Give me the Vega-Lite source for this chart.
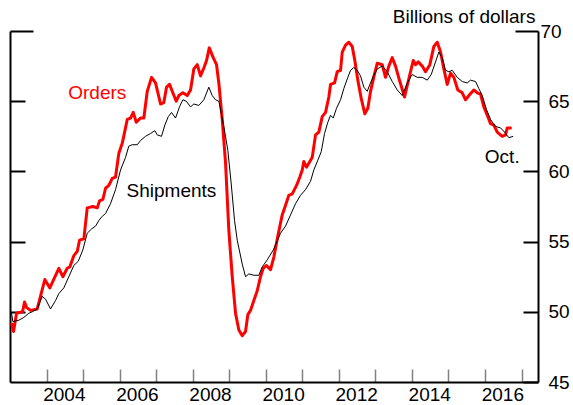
{
  "$schema": "https://vega.github.io/schema/vega-lite/v6.json",
  "width": 528,
  "height": 351,
  "autosize": {"type": "none"},
  "padding": {"left": 10, "top": 31, "right": 35, "bottom": 23},
  "config": {
    "view": {"stroke": null},
    "font": "Liberation Sans",
    "axis": {"grid": false, "domainColor": "black", "domainWidth": 2, "labelFont": "Liberation Sans", "labelFontSize": 19, "labelColor": "black", "title": null}
  },
  "datasets": {
    "series": [
      {"s":"Orders","t":2003.042,"v":49.2},{"s":"Orders","t":2003.097,"v":48.6},{"s":"Orders","t":2003.179,"v":49.9},{"s":"Orders","t":2003.343,"v":50.0},{"s":"Orders","t":2003.398,"v":50.7},{"s":"Orders","t":2003.453,"v":50.3},{"s":"Orders","t":2003.562,"v":50.1},{"s":"Orders","t":2003.745,"v":50.2},{"s":"Orders","t":2003.953,"v":52.3},{"s":"Orders","t":2004.090,"v":51.7},{"s":"Orders","t":2004.337,"v":53.1},{"s":"Orders","t":2004.446,"v":52.5},{"s":"Orders","t":2004.566,"v":53.1},{"s":"Orders","t":2004.638,"v":53.2},{"s":"Orders","t":2004.747,"v":54.0},{"s":"Orders","t":2004.840,"v":54.3},{"s":"Orders","t":2004.903,"v":55.1},{"s":"Orders","t":2005.021,"v":55.2},{"s":"Orders","t":2005.114,"v":57.4},{"s":"Orders","t":2005.267,"v":57.5},{"s":"Orders","t":2005.388,"v":57.4},{"s":"Orders","t":2005.450,"v":57.9},{"s":"Orders","t":2005.541,"v":58.0},{"s":"Orders","t":2005.615,"v":58.8},{"s":"Orders","t":2005.705,"v":59.0},{"s":"Orders","t":2005.798,"v":59.5},{"s":"Orders","t":2005.888,"v":59.6},{"s":"Orders","t":2005.979,"v":61.3},{"s":"Orders","t":2006.072,"v":62.0},{"s":"Orders","t":2006.209,"v":63.7},{"s":"Orders","t":2006.299,"v":63.8},{"s":"Orders","t":2006.373,"v":64.2},{"s":"Orders","t":2006.455,"v":63.5},{"s":"Orders","t":2006.573,"v":63.8},{"s":"Orders","t":2006.663,"v":63.8},{"s":"Orders","t":2006.756,"v":65.7},{"s":"Orders","t":2006.874,"v":66.7},{"s":"Orders","t":2006.983,"v":66.3},{"s":"Orders","t":2007.120,"v":64.8},{"s":"Orders","t":2007.210,"v":64.9},{"s":"Orders","t":2007.284,"v":66.0},{"s":"Orders","t":2007.366,"v":66.2},{"s":"Orders","t":2007.456,"v":65.6},{"s":"Orders","t":2007.550,"v":65.0},{"s":"Orders","t":2007.621,"v":65.4},{"s":"Orders","t":2007.730,"v":65.6},{"s":"Orders","t":2007.851,"v":65.4},{"s":"Orders","t":2007.941,"v":65.8},{"s":"Orders","t":2008.031,"v":67.3},{"s":"Orders","t":2008.124,"v":67.6},{"s":"Orders","t":2008.215,"v":66.8},{"s":"Orders","t":2008.310,"v":67.4},{"s":"Orders","t":2008.379,"v":67.9},{"s":"Orders","t":2008.453,"v":68.8},{"s":"Orders","t":2008.562,"v":68.1},{"s":"Orders","t":2008.652,"v":67.6},{"s":"Orders","t":2008.715,"v":66.3},{"s":"Orders","t":2008.808,"v":63.7},{"s":"Orders","t":2008.899,"v":60.6},{"s":"Orders","t":2008.989,"v":55.8},{"s":"Orders","t":2009.082,"v":52.5},{"s":"Orders","t":2009.172,"v":49.9},{"s":"Orders","t":2009.263,"v":48.7},{"s":"Orders","t":2009.356,"v":48.3},{"s":"Orders","t":2009.446,"v":48.6},{"s":"Orders","t":2009.509,"v":49.8},{"s":"Orders","t":2009.583,"v":50.1},{"s":"Orders","t":2009.673,"v":50.8},{"s":"Orders","t":2009.766,"v":51.5},{"s":"Orders","t":2009.856,"v":52.5},{"s":"Orders","t":2009.930,"v":53.1},{"s":"Orders","t":2010.021,"v":53.3},{"s":"Orders","t":2010.130,"v":53.0},{"s":"Orders","t":2010.221,"v":53.9},{"s":"Orders","t":2010.330,"v":55.4},{"s":"Orders","t":2010.450,"v":56.9},{"s":"Orders","t":2010.568,"v":57.8},{"s":"Orders","t":2010.631,"v":58.3},{"s":"Orders","t":2010.724,"v":58.4},{"s":"Orders","t":2010.842,"v":59.0},{"s":"Orders","t":2010.932,"v":59.6},{"s":"Orders","t":2010.998,"v":60.1},{"s":"Orders","t":2011.041,"v":60.7},{"s":"Orders","t":2011.115,"v":60.3},{"s":"Orders","t":2011.206,"v":60.7},{"s":"Orders","t":2011.271,"v":61.0},{"s":"Orders","t":2011.362,"v":62.6},{"s":"Orders","t":2011.452,"v":62.8},{"s":"Orders","t":2011.545,"v":63.9},{"s":"Orders","t":2011.636,"v":64.2},{"s":"Orders","t":2011.726,"v":65.3},{"s":"Orders","t":2011.772,"v":66.2},{"s":"Orders","t":2011.882,"v":66.3},{"s":"Orders","t":2011.956,"v":67.1},{"s":"Orders","t":2012.046,"v":67.2},{"s":"Orders","t":2012.093,"v":68.5},{"s":"Orders","t":2012.183,"v":69.0},{"s":"Orders","t":2012.273,"v":69.2},{"s":"Orders","t":2012.366,"v":68.9},{"s":"Orders","t":2012.437,"v":67.9},{"s":"Orders","t":2012.519,"v":66.5},{"s":"Orders","t":2012.612,"v":65.2},{"s":"Orders","t":2012.711,"v":64.1},{"s":"Orders","t":2012.793,"v":64.5},{"s":"Orders","t":2012.867,"v":65.7},{"s":"Orders","t":2012.963,"v":66.8},{"s":"Orders","t":2013.050,"v":67.7},{"s":"Orders","t":2013.187,"v":67.6},{"s":"Orders","t":2013.277,"v":66.7},{"s":"Orders","t":2013.368,"v":67.5},{"s":"Orders","t":2013.461,"v":68.1},{"s":"Orders","t":2013.551,"v":67.5},{"s":"Orders","t":2013.669,"v":66.4},{"s":"Orders","t":2013.798,"v":65.3},{"s":"Orders","t":2013.915,"v":66.6},{"s":"Orders","t":2014.036,"v":67.9},{"s":"Orders","t":2014.099,"v":67.6},{"s":"Orders","t":2014.172,"v":67.8},{"s":"Orders","t":2014.282,"v":67.5},{"s":"Orders","t":2014.372,"v":67.1},{"s":"Orders","t":2014.490,"v":67.6},{"s":"Orders","t":2014.600,"v":68.9},{"s":"Orders","t":2014.693,"v":69.2},{"s":"Orders","t":2014.783,"v":68.5},{"s":"Orders","t":2014.873,"v":67.3},{"s":"Orders","t":2014.966,"v":66.2},{"s":"Orders","t":2015.057,"v":67.0},{"s":"Orders","t":2015.147,"v":66.7},{"s":"Orders","t":2015.256,"v":65.8},{"s":"Orders","t":2015.377,"v":65.6},{"s":"Orders","t":2015.467,"v":65.1},{"s":"Orders","t":2015.557,"v":65.4},{"s":"Orders","t":2015.694,"v":65.8},{"s":"Orders","t":2015.787,"v":65.6},{"s":"Orders","t":2015.877,"v":65.5},{"s":"Orders","t":2015.968,"v":64.6},{"s":"Orders","t":2016.061,"v":64.0},{"s":"Orders","t":2016.151,"v":63.4},{"s":"Orders","t":2016.241,"v":63.3},{"s":"Orders","t":2016.334,"v":62.8},{"s":"Orders","t":2016.471,"v":62.5},{"s":"Orders","t":2016.562,"v":62.6},{"s":"Orders","t":2016.608,"v":63.1},{"s":"Orders","t":2016.666,"v":63.1},{"s":"Orders","t":2016.729,"v":63.1},
      {"s":"Shipments","t":2003.042,"v":49.9},{"s":"Shipments","t":2003.078,"v":49.3},{"s":"Shipments","t":2003.242,"v":49.4},{"s":"Shipments","t":2003.379,"v":49.6},{"s":"Shipments","t":2003.516,"v":49.9},{"s":"Shipments","t":2003.609,"v":50.0},{"s":"Shipments","t":2003.745,"v":50.2},{"s":"Shipments","t":2003.882,"v":51.1},{"s":"Shipments","t":2003.973,"v":50.9},{"s":"Shipments","t":2004.109,"v":50.2},{"s":"Shipments","t":2004.246,"v":50.8},{"s":"Shipments","t":2004.337,"v":51.3},{"s":"Shipments","t":2004.473,"v":51.7},{"s":"Shipments","t":2004.610,"v":52.5},{"s":"Shipments","t":2004.747,"v":53.3},{"s":"Shipments","t":2004.868,"v":53.6},{"s":"Shipments","t":2004.993,"v":54.4},{"s":"Shipments","t":2005.114,"v":55.6},{"s":"Shipments","t":2005.232,"v":55.9},{"s":"Shipments","t":2005.341,"v":56.1},{"s":"Shipments","t":2005.431,"v":56.5},{"s":"Shipments","t":2005.524,"v":56.8},{"s":"Shipments","t":2005.615,"v":57.0},{"s":"Shipments","t":2005.751,"v":57.7},{"s":"Shipments","t":2005.888,"v":58.7},{"s":"Shipments","t":2006.025,"v":60.1},{"s":"Shipments","t":2006.162,"v":61.0},{"s":"Shipments","t":2006.252,"v":61.8},{"s":"Shipments","t":2006.345,"v":61.9},{"s":"Shipments","t":2006.482,"v":61.9},{"s":"Shipments","t":2006.573,"v":62.2},{"s":"Shipments","t":2006.709,"v":62.5},{"s":"Shipments","t":2006.846,"v":62.7},{"s":"Shipments","t":2006.964,"v":62.9},{"s":"Shipments","t":2007.030,"v":62.6},{"s":"Shipments","t":2007.147,"v":62.5},{"s":"Shipments","t":2007.237,"v":63.3},{"s":"Shipments","t":2007.331,"v":63.9},{"s":"Shipments","t":2007.421,"v":64.2},{"s":"Shipments","t":2007.530,"v":63.8},{"s":"Shipments","t":2007.640,"v":64.6},{"s":"Shipments","t":2007.730,"v":65.1},{"s":"Shipments","t":2007.823,"v":65.0},{"s":"Shipments","t":2007.941,"v":64.6},{"s":"Shipments","t":2008.031,"v":64.8},{"s":"Shipments","t":2008.168,"v":64.7},{"s":"Shipments","t":2008.305,"v":65.1},{"s":"Shipments","t":2008.442,"v":66.0},{"s":"Shipments","t":2008.535,"v":65.4},{"s":"Shipments","t":2008.625,"v":65.1},{"s":"Shipments","t":2008.715,"v":65.0},{"s":"Shipments","t":2008.852,"v":63.2},{"s":"Shipments","t":2008.962,"v":61.5},{"s":"Shipments","t":2009.055,"v":59.1},{"s":"Shipments","t":2009.145,"v":56.5},{"s":"Shipments","t":2009.219,"v":55.1},{"s":"Shipments","t":2009.356,"v":53.4},{"s":"Shipments","t":2009.446,"v":52.5},{"s":"Shipments","t":2009.536,"v":52.7},{"s":"Shipments","t":2009.673,"v":52.6},{"s":"Shipments","t":2009.810,"v":52.6},{"s":"Shipments","t":2009.903,"v":53.2},{"s":"Shipments","t":2010.040,"v":53.7},{"s":"Shipments","t":2010.204,"v":54.4},{"s":"Shipments","t":2010.357,"v":55.3},{"s":"Shipments","t":2010.403,"v":55.6},{"s":"Shipments","t":2010.540,"v":56.1},{"s":"Shipments","t":2010.677,"v":56.9},{"s":"Shipments","t":2010.814,"v":57.7},{"s":"Shipments","t":2010.951,"v":58.3},{"s":"Shipments","t":2011.088,"v":58.7},{"s":"Shipments","t":2011.225,"v":59.3},{"s":"Shipments","t":2011.315,"v":60.1},{"s":"Shipments","t":2011.425,"v":60.8},{"s":"Shipments","t":2011.518,"v":61.4},{"s":"Shipments","t":2011.608,"v":62.7},{"s":"Shipments","t":2011.698,"v":63.5},{"s":"Shipments","t":2011.772,"v":64.0},{"s":"Shipments","t":2011.846,"v":63.8},{"s":"Shipments","t":2011.936,"v":64.5},{"s":"Shipments","t":2012.046,"v":65.1},{"s":"Shipments","t":2012.136,"v":65.9},{"s":"Shipments","t":2012.246,"v":66.7},{"s":"Shipments","t":2012.320,"v":67.2},{"s":"Shipments","t":2012.410,"v":67.4},{"s":"Shipments","t":2012.503,"v":67.2},{"s":"Shipments","t":2012.593,"v":66.8},{"s":"Shipments","t":2012.684,"v":66.0},{"s":"Shipments","t":2012.777,"v":65.7},{"s":"Shipments","t":2012.848,"v":66.2},{"s":"Shipments","t":2012.949,"v":66.8},{"s":"Shipments","t":2013.050,"v":67.3},{"s":"Shipments","t":2013.187,"v":67.5},{"s":"Shipments","t":2013.324,"v":67.1},{"s":"Shipments","t":2013.461,"v":66.4},{"s":"Shipments","t":2013.598,"v":65.8},{"s":"Shipments","t":2013.735,"v":65.4},{"s":"Shipments","t":2013.872,"v":66.3},{"s":"Shipments","t":2014.008,"v":66.9},{"s":"Shipments","t":2014.145,"v":66.7},{"s":"Shipments","t":2014.282,"v":66.7},{"s":"Shipments","t":2014.419,"v":66.5},{"s":"Shipments","t":2014.528,"v":66.9},{"s":"Shipments","t":2014.646,"v":67.8},{"s":"Shipments","t":2014.736,"v":68.5},{"s":"Shipments","t":2014.829,"v":68.1},{"s":"Shipments","t":2014.919,"v":67.2},{"s":"Shipments","t":2015.010,"v":67.1},{"s":"Shipments","t":2015.103,"v":67.2},{"s":"Shipments","t":2015.240,"v":66.7},{"s":"Shipments","t":2015.377,"v":66.4},{"s":"Shipments","t":2015.513,"v":66.3},{"s":"Shipments","t":2015.604,"v":66.5},{"s":"Shipments","t":2015.741,"v":66.4},{"s":"Shipments","t":2015.831,"v":65.9},{"s":"Shipments","t":2015.924,"v":65.4},{"s":"Shipments","t":2016.042,"v":64.4},{"s":"Shipments","t":2016.151,"v":63.7},{"s":"Shipments","t":2016.288,"v":63.2},{"s":"Shipments","t":2016.425,"v":63.1},{"s":"Shipments","t":2016.534,"v":62.8},{"s":"Shipments","t":2016.652,"v":62.4},{"s":"Shipments","t":2016.771,"v":62.5}
    ],
    "redlabels": [{"label":"Orders","t":2004.594,"v":65.13}],
    "blacklabels": [{"label":"Shipments","t":2006.189,"v":58.17},{"label":"Oct.","t":2015.995,"v":60.57}],
    "unitlabel": [{"label":"Billions of dollars","t":2017.38,"v":70.59}]
  },
  "encoding": {
    "x": {
      "field": "t", "type": "quantitative",
      "scale": {"domain": [2003.0, 2017.45], "nice": false, "zero": false},
      "axis": {
        "orient": "bottom",
        "values": [2004,2005,2006,2007,2008,2009,2010,2011,2012,2013,2014,2015,2016,2017],
        "labelExpr": "datum.value % 2 == 0 ? format(datum.value, 'd') : ''",
        "tickSize": -13, "tickColor": "#808080", "tickWidth": 1.5,
        "labelOffset": 17.3, "labelPadding": 16, "labelFlush": false, "labelOverlap": false
      }
    }
  },
  "layer": [
    {
      "data": {"name": "series"},
      "transform": [{"filter": "datum.s == 'Orders'"}],
      "mark": {"type": "line", "color": "#ff0000", "strokeWidth": 3, "strokeJoin": "round"},
      "encoding": {
        "y": {
          "field": "v", "type": "quantitative",
          "scale": {"domain": [45, 70], "nice": false, "zero": false},
          "axis": {"orient": "right", "values": [45,50,55,60,65,70], "tickSize": {"condition": {"test": "datum.value == 70", "value": -23}, "value": -15}, "tickWidth": 2, "tickColor": "black", "labelPadding": 25, "labelAlign": "left"}
        }
      }
    },
    {
      "data": {"name": "series"},
      "transform": [{"filter": "datum.s == 'Shipments'"}],
      "mark": {"type": "line", "color": "black", "strokeWidth": 1},
      "encoding": {
        "y": {
          "field": "v", "type": "quantitative",
          "axis": {"orient": "left", "values": [50,55,60,65,70], "labels": false, "tickSize": {"condition": {"test": "datum.value == 70", "value": -23}, "value": -15}, "tickWidth": 2, "tickColor": "black"}
        }
      }
    },
    {
      "data": {"name": "redlabels"},
      "mark": {"type": "text", "color": "#ff0000", "align": "left", "baseline": "alphabetic", "fontSize": 19, "font": "Liberation Sans"},
      "encoding": {"y": {"field": "v", "type": "quantitative", "axis": null}, "text": {"field": "label"}}
    },
    {
      "data": {"name": "blacklabels"},
      "mark": {"type": "text", "color": "black", "align": "left", "baseline": "alphabetic", "fontSize": 19, "font": "Liberation Sans"},
      "encoding": {"y": {"field": "v", "type": "quantitative", "axis": null}, "text": {"field": "label"}}
    },
    {
      "data": {"name": "unitlabel"},
      "mark": {"type": "text", "color": "black", "align": "right", "baseline": "alphabetic", "fontSize": 19, "font": "Liberation Sans"},
      "encoding": {"y": {"field": "v", "type": "quantitative", "axis": null}, "text": {"field": "label"}}
    }
  ],
  "resolve": {"axis": {"y": "independent"}}
}
